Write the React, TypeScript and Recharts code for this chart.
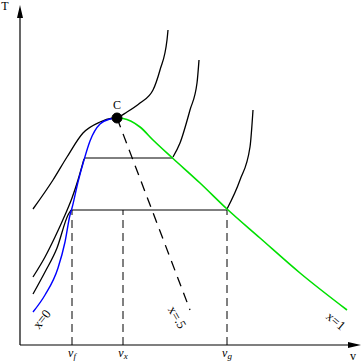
import React from 'react';
import { ComposedChart, Line, XAxis, YAxis, ReferenceLine, ReferenceDot } from 'recharts';

// Coordinates: v (specific volume, arbitrary units), T (temperature, arbitrary units)
const satLiquid = [
  { v: 13, T: 33 }, { v: 25, T: 50 }, { v: 38, T: 77 }, { v: 45, T: 103 }, { v: 50, T: 130 },
  { v: 52, T: 137 }, { v: 58, T: 163 }, { v: 64, T: 185 }, { v: 70, T: 204 }, { v: 80, T: 221 },
  { v: 90, T: 226 }, { v: 97, T: 227 },
];
const satVapor = [
  { v: 97, T: 227 }, { v: 103, T: 226.5 }, { v: 120, T: 218 }, { v: 133, T: 205 }, { v: 153, T: 186.5 },
  { v: 180, T: 162 }, { v: 207, T: 136 }, { v: 240, T: 107 }, { v: 280, T: 72 }, { v: 327, T: 35 },
];
const isoCritical = [
  { v: 13, T: 136 }, { v: 33, T: 165 }, { v: 47, T: 188 }, { v: 63, T: 212 }, { v: 80, T: 223 },
  { v: 93, T: 227 }, { v: 97, T: 227.5 }, { v: 107, T: 233 }, { v: 120, T: 242 }, { v: 133, T: 255 },
  { v: 140, T: 275 }, { v: 147, T: 305 }, { v: 148, T: 315 },
];
const isoMidLeft = [
  { v: 13, T: 68 }, { v: 25, T: 88 }, { v: 35, T: 108 }, { v: 45, T: 130 }, { v: 52, T: 147 },
  { v: 58, T: 165 }, { v: 64, T: 186 },
];
const isoMidFlat = [{ v: 64, T: 187 }, { v: 153, T: 187 }];
const isoMidRight = [
  { v: 153, T: 188 }, { v: 160, T: 202 }, { v: 170, T: 235 }, { v: 177, T: 262 }, { v: 179, T: 285 },
];
const isoLowLeft = [
  { v: 13, T: 51 }, { v: 25, T: 73 }, { v: 37, T: 97 }, { v: 48, T: 130 }, { v: 51, T: 135 },
];
const isoLowFlat = [{ v: 51, T: 135 }, { v: 207, T: 135 }];
const isoLowRight = [
  { v: 207, T: 136 }, { v: 220, T: 165 }, { v: 230, T: 198 }, { v: 233, T: 235 },
];
const qualityHalf = [{ v: 97, T: 227 }, { v: 170, T: 35 }];
const vf = [{ v: 52, T: 0 }, { v: 52, T: 135 }];
const vx = [{ v: 103, T: 0 }, { v: 103, T: 135 }];
const vg = [{ v: 207, T: 0 }, { v: 207, T: 135 }];

const critical = { v: 97, T: 227 };
const tickLabels = [
  { v: 52, sub: 'f' },
  { v: 103, sub: 'x' },
  { v: 207, sub: 'g' },
];
const curveLabels = [
  { v: 23, T: 25, text: 'x=0', angle: -52 },
  { v: 156, T: 27, text: 'x=.5', angle: 60 },
  { v: 315, T: 23, text: 'x=1', angle: 40 },
];

const FONT = '"Liberation Serif", "DejaVu Serif", serif';

export default function App() {
  const lineProps = {
    dataKey: 'T',
    dot: false,
    activeDot: false,
    isAnimationActive: false,
    legendType: 'none' as const,
  };
  return (
    <div style={{ position: 'absolute', left: 0, top: 0 }}>
      <ComposedChart width={364} height={361} margin={{ top: 0, right: 0, bottom: 0, left: 0 }}>
        <XAxis type="number" dataKey="v" domain={[-20, 344]} hide allowDataOverflow />
        <YAxis type="number" dataKey="T" domain={[-16, 345]} hide allowDataOverflow />

        {/* axes */}
        <ReferenceLine segment={[{ x: 0, y: 0 }, { x: 0, y: 330 }]} stroke="#000" strokeWidth={1.2} ifOverflow="visible" />
        <ReferenceLine segment={[{ x: 0, y: 0 }, { x: 330, y: 0 }]} stroke="#000" strokeWidth={1.2} ifOverflow="visible" />
        <ReferenceDot
          x={0}
          y={327}
          ifOverflow="visible"
          shape={(p: any) => (
            <path d={`M${p.cx - 3},${p.cy} L${p.cx + 3},${p.cy} L${p.cx},${p.cy - 13} Z`} fill="#000" />
          )}
        />
        <ReferenceDot
          x={328}
          y={0}
          ifOverflow="visible"
          shape={(p: any) => (
            <path d={`M${p.cx},${p.cy - 3} L${p.cx},${p.cy + 3} L${p.cx + 13},${p.cy} Z`} fill="#000" />
          )}
        />

        {/* dashed verticals and quality line */}
        <Line data={vf} {...lineProps} stroke="#000" strokeWidth={1} strokeDasharray="8 5" />
        <Line data={vx} {...lineProps} stroke="#000" strokeWidth={1} strokeDasharray="8 5" />
        <Line data={vg} {...lineProps} stroke="#000" strokeWidth={1} strokeDasharray="8 5" />
        <Line data={qualityHalf} {...lineProps} stroke="#000" strokeWidth={1.3} strokeDasharray="10 7" />

        {/* isotherms */}
        <Line data={isoCritical} {...lineProps} type="monotone" stroke="#000" strokeWidth={1.3} />
        <Line data={isoMidLeft} {...lineProps} type="monotone" stroke="#000" strokeWidth={1.3} />
        <Line data={isoMidFlat} {...lineProps} stroke="#000" strokeWidth={1} />
        <Line data={isoMidRight} {...lineProps} type="monotone" stroke="#000" strokeWidth={1.3} />
        <Line data={isoLowLeft} {...lineProps} type="monotone" stroke="#000" strokeWidth={1.3} />
        <Line data={isoLowFlat} {...lineProps} stroke="#000" strokeWidth={1} />
        <Line data={isoLowRight} {...lineProps} type="monotone" stroke="#000" strokeWidth={1.3} />

        {/* saturation dome */}
        <Line data={satLiquid} {...lineProps} type="monotone" stroke="#0000ff" strokeWidth={1.4} />
        <Line data={satVapor} {...lineProps} type="monotone" stroke="#00e000" strokeWidth={1.6} />

        {/* critical point */}
        <ReferenceDot x={critical.v} y={critical.T} r={5} fill="#000" stroke="#000" ifOverflow="visible" />
        <ReferenceDot
          x={critical.v}
          y={236}
          ifOverflow="visible"
          shape={(p: any) => (
            <text x={p.cx} y={p.cy} textAnchor="middle" fontFamily={FONT} fontSize={12} fill="#000">C</text>
          )}
        />

        {/* axis labels */}
        <ReferenceDot
          x={-15}
          y={335}
          ifOverflow="visible"
          shape={(p: any) => (
            <text x={p.cx} y={p.cy} textAnchor="middle" fontFamily={FONT} fontSize={12} fill="#000">T</text>
          )}
        />
        <ReferenceDot
          x={333}
          y={-14.5}
          ifOverflow="visible"
          shape={(p: any) => (
            <text x={p.cx} y={p.cy} textAnchor="middle" fontFamily={FONT} fontSize={12} fill="#000">v</text>
          )}
        />

        {tickLabels.map((t) => (
          <ReferenceDot
            key={t.sub}
            x={t.v}
            y={-12}
            ifOverflow="visible"
            shape={(p: any) => (
              <text x={p.cx} y={p.cy} textAnchor="middle" fontFamily={FONT} fontSize={12} fill="#000">
                <tspan fontStyle="italic">v</tspan>
                <tspan fontStyle="italic" fontSize={9} dy={2}>{t.sub}</tspan>
              </text>
            )}
          />
        ))}

        {curveLabels.map((c) => (
          <ReferenceDot
            key={c.text}
            x={c.v}
            y={c.T}
            ifOverflow="visible"
            shape={(p: any) => (
              <text
                x={p.cx}
                y={p.cy}
                textAnchor="middle"
                dominantBaseline="middle"
                transform={`rotate(${c.angle},${p.cx},${p.cy})`}
                fontFamily={FONT}
                fontSize={13}
                fill="#000"
              >
                {c.text}
              </text>
            )}
          />
        ))}
      </ComposedChart>
    </div>
  );
}
